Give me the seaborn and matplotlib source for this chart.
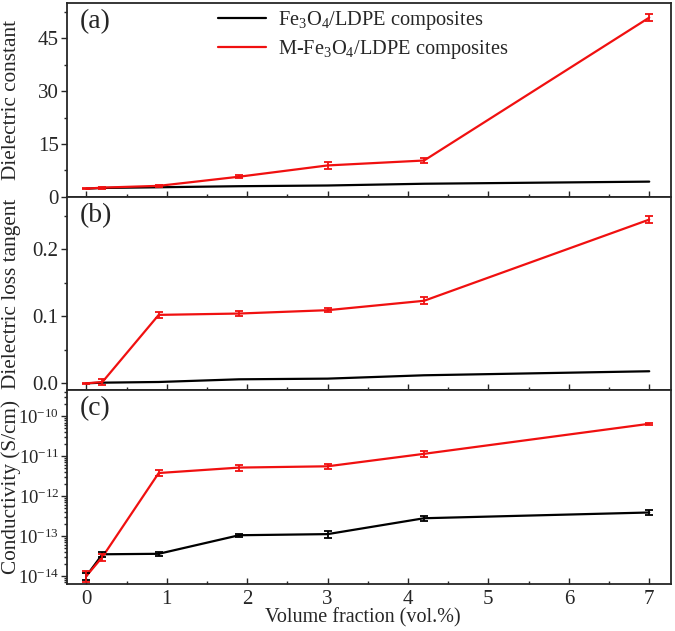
import numpy as np
import pandas as pd
import matplotlib
matplotlib.use("Agg")
import matplotlib.pyplot as plt
import matplotlib.ticker as mticker
import seaborn as sns

# volume fraction (vol.%)
vol = [0, 0.2, 0.9, 1.9, 3.0, 4.2, 7.0]

# (a) dielectric constant
eps_fe = [2.3, 2.5, 2.7, 3.0, 3.2, 3.7, 4.3]
eps_mfe = [2.3, 2.6, 3.1, 5.7, 8.9, 10.3, 50.9]
eps_mfe_err = [0.2, 0.3, 0.3, 0.4, 1.0, 0.8, 1.0]

# (b) dielectric loss tangent
tan_fe = [0.0, 0.001, 0.002, 0.006, 0.007, 0.012, 0.018]
tan_mfe = [0.0, 0.002, 0.102, 0.104, 0.109, 0.123, 0.244]
tan_mfe_err = [0.001, 0.005, 0.004, 0.004, 0.003, 0.005, 0.005]

# (c) conductivity (S/cm)
sig_fe = [1.0e-14, 3.5e-14, 3.6e-14, 1.05e-13, 1.12e-13, 2.8e-13, 3.9e-13]
sig_fe_err = [0.2e-14, 0.5e-14, 0.5e-14, 0.1e-13, 0.2e-13, 0.4e-13, 0.6e-13]
sig_mfe = [1.0e-14, 3.0e-14, 3.8e-12, 5.2e-12, 5.6e-12, 1.15e-11, 6.5e-11]
sig_mfe_err = [0.3e-14, 0.6e-14, 0.6e-12, 0.9e-12, 0.9e-12, 0.2e-11, 0.3e-11]

lab_fe = r"Fe$_3$O$_4$/LDPE composites"
lab_mfe = r"M-Fe$_3$O$_4$/LDPE composites"
red = "#f01010"

sns.set_theme(style="ticks")
plt.rcParams["font.family"] = ["Liberation Serif", "DejaVu Serif"]
plt.rcParams["mathtext.fontset"] = "custom"
plt.rcParams["mathtext.rm"] = "Liberation Serif"
plt.rcParams["mathtext.it"] = "Liberation Serif:italic"
plt.rcParams["mathtext.bf"] = "Liberation Serif:bold"
plt.rcParams["axes.unicode_minus"] = False
plt.rcParams["axes.linewidth"] = 1.3

fig, axes = plt.subplots(3, 1, sharex=True, figsize=(6.75, 6.31), dpi=100)
fig.subplots_adjust(left=0.0993, right=0.994, top=0.995, bottom=0.0745, hspace=0)

panels = [
    (eps_fe, None, eps_mfe, eps_mfe_err, "Dielectric constant", "(a)"),
    (tan_fe, None, tan_mfe, tan_mfe_err, "Dielectric loss tangent", "(b)"),
    (sig_fe, sig_fe_err, sig_mfe, sig_mfe_err, "Conductivity (S/cm)", "(c)"),
]

for ax, (yb, eb, yr, er, ylab, tag) in zip(axes, panels):
    df = pd.DataFrame({"vol": vol * 2,
                       "val": yb + yr,
                       "kind": [lab_fe] * len(vol) + [lab_mfe] * len(vol)})
    sns.lineplot(data=df, x="vol", y="val", hue="kind",
                 palette={lab_fe: "black", lab_mfe: red},
                 linewidth=1.6, ax=ax, legend=(tag == "(a)"))
    if eb is not None:
        ax.errorbar(vol, yb, yerr=eb, fmt="none", ecolor="black",
                    elinewidth=1.3, capsize=3, capthick=1.3)
    ax.errorbar(vol, yr, yerr=er, fmt="none", ecolor=red,
                elinewidth=1.3, capsize=3, capthick=1.3)
    ax.set_ylabel(ylab, fontsize=15.3)
    ax.yaxis.set_label_coords(-0.077, 0.5)
    ax.set_xlabel("")
    ax.text(0.021, 0.968, tag, transform=ax.transAxes, fontsize=20,
            ha="left", va="top")
    ax.tick_params(axis="x", which="both", direction="in", top=False,
                   labelsize=15, pad=4)
    ax.tick_params(axis="x", which="major", length=4, width=1)
    ax.tick_params(axis="x", which="minor", length=2.5, width=1)
    ax.tick_params(axis="y", which="both", direction="out", right=False,
                   labelsize=15, pad=2)
    ax.tick_params(axis="y", which="major", length=4, width=1)
    ax.tick_params(axis="y", which="minor", length=2.5, width=1)

axes[0].set_ylim(0, 55)
axes[0].yaxis.set_major_locator(mticker.MultipleLocator(15))
axes[0].yaxis.set_minor_locator(mticker.MultipleLocator(7.5))
leg = axes[0].legend(loc="upper left", bbox_to_anchor=(0.25, 0.97),
                     frameon=False, fontsize=14.7, handlelength=2.35,
                     handletextpad=0.6, labelspacing=0.3, borderpad=0,
                     borderaxespad=0)
for line in leg.get_lines():
    line.set_linewidth(1.6)

axes[1].set_ylim(-0.0105, 0.278)
axes[1].yaxis.set_major_locator(mticker.MultipleLocator(0.1))
axes[1].yaxis.set_minor_locator(mticker.MultipleLocator(0.05))
axes[1].yaxis.set_major_formatter(mticker.FormatStrFormatter("%.1f"))

axes[2].set_yscale("log")
axes[2].set_ylim(10 ** -14.2, 10 ** -9.35)
axes[2].yaxis.set_major_locator(mticker.LogLocator(base=10, numticks=10))
axes[2].yaxis.set_minor_locator(mticker.LogLocator(base=10, subs=np.arange(2, 10), numticks=20))
axes[2].yaxis.set_minor_formatter(mticker.NullFormatter())
axes[2].tick_params(axis="y", labelsize=13.5, pad=1.5)

axes[2].set_xlim(-0.24, 7.27)
axes[2].xaxis.set_major_locator(mticker.MultipleLocator(1))
axes[2].xaxis.set_minor_locator(mticker.MultipleLocator(0.5))
axes[2].set_xlabel("Volume fraction (vol.%)", fontsize=14.5)
axes[2].xaxis.set_label_coords(0.49, -0.123)

fig.savefig("out.png", dpi=100)
